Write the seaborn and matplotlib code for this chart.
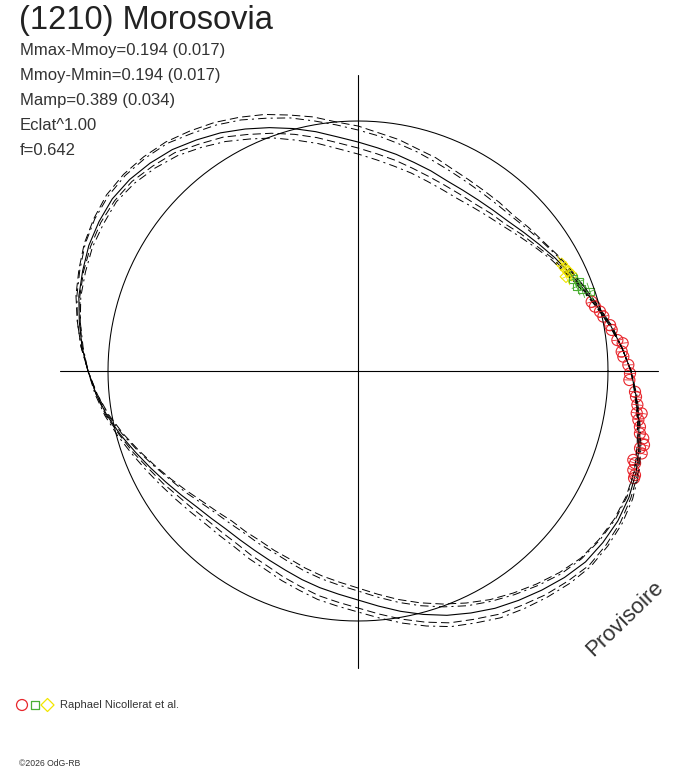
import numpy as np
import matplotlib
matplotlib.use("Agg")
import matplotlib.pyplot as plt
import seaborn as sns

# ---------------- data ----------------
title = "(1210) Morosovia"
info_lines = ["Mmax-Mmoy=0.194 (0.017)", "Mmoy-Mmin=0.194 (0.017)",
              "Mamp=0.389 (0.034)", "Eclat^1.00", "f=0.642"]
credit = "Raphael Nicollerat et al."
copyright_txt = "\u00a92026 OdG-RB"
watermark = "Provisoire"

# model curve: polar angle (deg) and radius (reference circle = 250)
model_angle = list(range(0, 360, 5))
model_r = [273, 265, 257, 248, 240, 233, 227, 221, 216, 212,
           210, 209, 209, 210, 213, 216, 220, 224, 229, 235,
           243, 251, 259, 267, 275, 282, 289, 294, 298, 300,
           299, 297, 293, 289, 283, 277, 270, 263, 255, 246,
           237, 229, 222, 216, 211, 208, 206, 206, 207, 209,
           212, 216, 220, 224, 229, 236, 244, 252, 260, 267,
           274, 280, 286, 292, 297, 299, 300, 299, 296, 291,
           285, 279]
# alternative solutions: radial offsets from the model curve
alt1_dr = [0, 0, 1, 1, 2, 3, 4, 5, 7, 8,
           10, 11, 12, 13, 14, 14, 15, 15, 16, 15,
           15, 14, 14, 13, 12, 11, 10, 9, 8, 7,
           6, 5, 4, 3, 2, 1, 0, -1, -2, -3,
           -4, -5, -6, -7, -8, -9, -10, -10, -11, -11,
           -12, -12, -12, -12, -12, -12, -12, -12, -12, -11,
           -10, -9, -8, -7, -6, -5, -4, -3, -2, -2, -1, -1]
alt2_dr = [0, 0, 1, 1, 2, 2, 3, 4, 5, 6,
           7, 8, 9, 10, 10, 11, 11, 12, 12, 12,
           11, 11, 10, 10, 9, 8, 8, 7, 6, 5,
           5, 4, 3, 2, 2, 1, 0, -1, -1, -2,
           -3, -4, -5, -5, -6, -7, -7, -8, -8, -9,
           -9, -9, -9, -9, -9, -9, -9, -9, -9, -8,
           -8, -7, -6, -5, -5, -4, -3, -2, -2, -1, -1, 0]
alt3_dr = [0, 0, -1, -1, -1, -2, -2, -3, -3, -4,
           -4, -5, -5, -5, -6, -6, -6, -6, -6, -6,
           -6, -6, -6, -6, -5, -5, -4, -4, -3, -3,
           -2, -2, -1, -1, -1, 0, 0, 0, 1, 1,
           2, 2, 3, 3, 4, 4, 5, 5, 6, 6,
           7, 7, 8, 8, 8, 8, 8, 8, 8, 7,
           7, 6, 6, 5, 5, 4, 3, 2, 2, 1, 1, 0]
alt4_dr = [0, 0, -1, -1, -2, -3, -4, -5, -6, -7,
           -8, -9, -10, -10, -11, -11, -12, -12, -12, -12,
           -12, -12, -11, -11, -10, -9, -8, -7, -6, -5,
           -5, -4, -3, -2, -1, -1, 0, 1, 2, 3,
           4, 5, 6, 7, 8, 8, 9, 9, 10, 10,
           11, 11, 12, 12, 12, 12, 12, 12, 12, 11,
           11, 10, 9, 8, 7, 6, 5, 4, 3, 2, 1, 1]

# observations (angle deg, radius)
red_angle = [16.5, 15.2, 13.8, 12.5, 10.3, 9.2, 6.8, 6.0, 4.2, 3.1, 1.3, -0.5, -1.9,
             -4.3, -5.3, -6.9, -8.6, -8.5, -9.9, -11.2, -12.5, -13.3, -14.5, -15.3,
             -16.2, -17.9, -18.4, -19.8, -20.6, -21.2]
red_r = [243.7, 245.6, 249.2, 251.3, 256.2, 257.0, 261.2, 266.1, 264.4, 265.7, 270.4,
         272.0, 271.5, 277.8, 279.2, 281.4, 281.9, 286.8, 284.6, 287.4, 288.8, 293.1,
         295.4, 292.4, 295.4, 289.3, 292.0, 292.6, 295.9, 296.1]
green_angle = [23.1, 22.0, 21.1, 20.1, 18.9]
green_r = [234.0, 238.7, 234.4, 238.1, 245.2]
yellow_angle = [27.7, 26.4, 25.3, 24.2, 24.4]
yellow_r = [230.1, 231.1, 232.6, 234.3, 228.4]
obs_err = 5.0

# ---------------- figure ----------------
sns.set_theme(style="white")
plt.rcParams["font.family"] = ["Liberation Sans", "DejaVu Sans"]
plt.rcParams["lines.scale_dashes"] = False

W, H = 688, 768
CX, CY = 358, 371
fig = plt.figure(figsize=(W / 100, H / 100), dpi=100)
ax = fig.add_axes([0, 0, 1, 1])
ax.set_xlim(-CX, W - CX)
ax.set_ylim(-(H - CY), CY)
ax.set_aspect("equal")
ax.axis("off")

def to_xy(angles, radii):
    t = np.deg2rad(np.asarray(angles, float))
    r = np.asarray(radii, float)
    return r * np.cos(t), r * np.sin(t)

def closed(a):
    a = list(a)
    return a + a[:1]

# axes cross
ax.plot([-298, 300], [0, 0], color="black", lw=0.8)
ax.plot([0, 0], [-297, 296], color="black", lw=0.8)

# reference circle
circ_t = np.linspace(0, 360, 361)
cx, cy = to_xy(circ_t, np.full(circ_t.shape, 250.0))
ax.plot(cx, cy, color="black", lw=0.75)

ang_c = closed(model_angle)
styles = [(alt1_dr, (0, (6, 3))), (alt2_dr, (0, (6, 3, 1.5, 3))),
          (alt3_dr, (0, (6, 3))), (alt4_dr, (0, (6, 3, 1.5, 3)))]
for dr, ls in styles:
    rr = [a + b for a, b in zip(model_r, dr)]
    x, y = to_xy(ang_c, closed(rr))
    sns.lineplot(x=x, y=y, sort=False, estimator=None, color="black",
                 lw=0.7, linestyle=ls, ax=ax)

x, y = to_xy(ang_c, closed(model_r))
sns.lineplot(x=x, y=y, sort=False, estimator=None, color="black", lw=0.8, ax=ax)

RED, GREEN, YELLOW = "#e8262c", "#4cb034", "#f2e600"

def err_bars(angles, radii, color, cross=False):
    for a, r in zip(angles, radii):
        t = np.deg2rad(a)
        ax.plot([(r - obs_err) * np.cos(t), (r + obs_err) * np.cos(t)],
                [(r - obs_err) * np.sin(t), (r + obs_err) * np.sin(t)],
                color=color, lw=0.6)
        if cross:
            e = 9
            ax.plot([r * np.cos(t) - e * np.sin(t), r * np.cos(t) + e * np.sin(t)],
                    [r * np.sin(t) + e * np.cos(t), r * np.sin(t) - e * np.cos(t)],
                    color=color, lw=0.6)

err_bars(yellow_angle, yellow_r, YELLOW, cross=True)
err_bars(green_angle, green_r, GREEN, cross=True)
err_bars(red_angle, red_r, RED)

yx, yy = to_xy(yellow_angle, yellow_r)
sns.scatterplot(x=yx, y=yy, marker="D", s=36, facecolors="none",
                edgecolor=YELLOW, linewidth=0.8, ax=ax)
gx, gy = to_xy(green_angle, green_r)
sns.scatterplot(x=gx, y=gy, marker="s", s=30, facecolors="none",
                edgecolor=GREEN, linewidth=0.8, ax=ax)
rx, ry = to_xy(red_angle, red_r)
sns.scatterplot(x=rx, y=ry, marker="o", s=64, facecolors="none",
                edgecolor=RED, linewidth=0.8, ax=ax)

# legend symbols
leg_y = CY - 705
ax.scatter([22 - CX], [leg_y], marker="o", s=62, facecolors="none", edgecolors=RED, linewidths=0.9)
ax.scatter([35 - CX], [leg_y], marker="s", s=34, facecolors="none", edgecolors=GREEN, linewidths=0.9)
ax.scatter([47.5 - CX], [leg_y], marker="D", s=44, facecolors="none", edgecolors=YELLOW, linewidths=0.9)

# texts
def px(x, y):
    return x / W, 1 - y / H

fig.text(*px(19, 21), title, fontsize=23.5, color="#222222", va="center", ha="left")
for i, line in enumerate(info_lines):
    fig.text(*px(20, 51 + i * 24.8), line, fontsize=12, color="#333333",
             va="center", ha="left")
fig.text(*px(60, 705), credit, fontsize=8, color="#333333", va="center", ha="left")
fig.text(*px(19, 763), copyright_txt, fontsize=6.2, color="#333333", va="center", ha="left")
fig.text(*px(625, 619), watermark, fontsize=16, color="#333333", rotation=44,
         va="center", ha="center", rotation_mode="anchor")

fig.savefig("out.png", dpi=100, facecolor="white")
